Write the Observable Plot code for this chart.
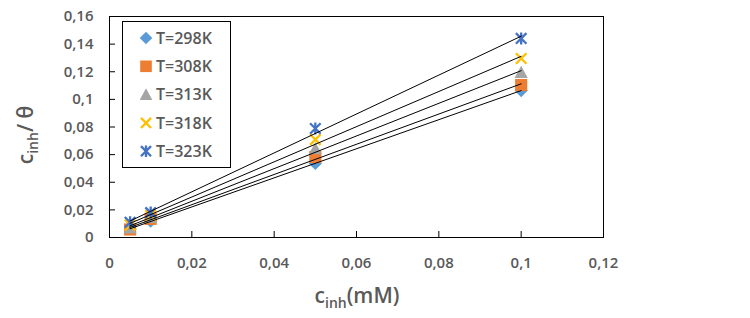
<!DOCTYPE html>
<html><head><meta charset="utf-8">
<script src="https://cdn.jsdelivr.net/npm/d3@7"></script>
<script src="https://cdn.jsdelivr.net/npm/@observablehq/plot@0.6"></script>
<style>body{margin:0;background:#fff}</style>
</head><body><div id="chart"></div>
<script>
// ---- data ----
const concentrations = [0.005, 0.01, 0.05, 0.1];           // c_inh (mM)
const seriesNames = ["T=298K", "T=308K", "T=313K", "T=318K", "T=323K"];
const t298 = [0.0062, 0.0118, 0.0536, 0.1064];
const t308 = [0.0058, 0.0135, 0.0583, 0.1104];
const t313 = [0.0070, 0.0145, 0.0644, 0.1195];
const t318 = [0.0090, 0.0160, 0.0709, 0.1296];
const t323 = [0.0110, 0.0180, 0.0789, 0.1441];
const xTicks = [0, 0.02, 0.04, 0.06, 0.08, 0.1, 0.12];
const yTicks = [0, 0.02, 0.04, 0.06, 0.08, 0.1, 0.12, 0.14, 0.16];
const colors = ["#5B9BD5", "#ED7D31", "#A5A5A5", "#FFC000", "#4472C4"];

const fmt = d => String(+d.toFixed(2)).replace(".", ",");
const rad = size => Math.sqrt(size / Math.PI);
const symbols = {
  diamond: {draw(c, s) { const r = rad(s); c.moveTo(0, -r); c.lineTo(r, 0); c.lineTo(0, r); c.lineTo(-r, 0); c.closePath(); }},
  square: {draw(c, s) { const r = rad(s) * 0.92; c.moveTo(-r, -r); c.lineTo(r, -r); c.lineTo(r, r); c.lineTo(-r, r); c.closePath(); }},
  triangle: {draw(c, s) { const r = rad(s); c.moveTo(0, -r); c.lineTo(r, r * 0.85); c.lineTo(-r, r * 0.85); c.closePath(); }},
  times: {draw(c, s) { const r = rad(s) * 0.8; c.moveTo(-r, -r); c.lineTo(r, r); c.moveTo(-r, r); c.lineTo(r, -r); }},
  star: {draw(c, s) { const r = rad(s) * 0.8; c.moveTo(-r, -r); c.lineTo(r, r); c.moveTo(-r, r); c.lineTo(r, -r); c.moveTo(0, -r * 1.15); c.lineTo(0, r * 1.15); }}
};
const seriesValues = [t298, t308, t313, t318, t323];
const seriesSymbols = [symbols.diamond, symbols.square, symbols.triangle, symbols.times, symbols.star];
const filled = [true, true, true, false, false];

const series = seriesNames.map((name, k) => ({
  name, color: colors[k], symbol: seriesSymbols[k], filled: filled[k],
  rows: concentrations.map((c, i) => ({x: c, y: seriesValues[k][i]}))
}));

const dotMarks = series.map(s => Plot.dot(s.rows, {
  x: "x", y: "y", symbol: s.symbol, r: 6.6,
  fill: s.filled ? s.color : "none",
  stroke: s.filled ? "none" : s.color,
  strokeWidth: s.filled ? 0 : 2.3
}));
const lineMarks = series.map(s => Plot.linearRegressionY(s.rows, {
  x: "x", y: "y", stroke: "black", strokeWidth: 1, ci: 0
}));

const chart = Plot.plot({
  width: 750, height: 318,
  marginLeft: 109, marginRight: 147, marginTop: 16, marginBottom: 81,
  style: {fontFamily: "'Open Sans', sans-serif", fontSize: "15px", fontWeight: "600", background: "white", color: "black"},
  x: {domain: [0, 0.12]},
  y: {domain: [0, 0.16]},
  marks: [
    Plot.axisX({ticks: xTicks, tickFormat: fmt, tickSize: -6, tickPadding: 26, stroke: "black", fill: "#595959", label: null}),
    Plot.axisY({ticks: yTicks, tickFormat: fmt, tickSize: -6, tickPadding: 22, stroke: "black", fill: "#595959", label: null}),
    ...dotMarks,
    ...lineMarks,
    Plot.frame({stroke: "black", strokeWidth: 1})
  ]
});
document.getElementById("chart").appendChild(chart);

// ---- titles & legend ----
const svg = d3.select(chart);
const font = "'Open Sans', sans-serif";
const xt = svg.append("text").attr("x", 357).attr("y", 303).attr("text-anchor", "middle")
  .attr("fill", "#595959").style("font-family", font).style("font-size", "21px").style("font-weight", "600");
xt.append("tspan").text("c");
xt.append("tspan").attr("dy", 5).style("font-size", "14px").text("inh");
xt.append("tspan").attr("dy", -5).text("(mM)");

const yt = svg.append("text").attr("transform", "translate(33,135) rotate(-90)").attr("text-anchor", "middle")
  .attr("fill", "#595959").style("font-family", font).style("font-size", "21px").style("font-weight", "600");
yt.append("tspan").text("c");
yt.append("tspan").attr("dy", 5).style("font-size", "14px").text("inh");
yt.append("tspan").attr("dy", -5).text("/ θ");

const lg = svg.append("g");
lg.append("rect").attr("x", 122.5).attr("y", 21.5).attr("width", 108).attr("height", 146)
  .attr("fill", "white").attr("stroke", "black");
series.forEach((s, i) => {
  const cy = 38 + i * 28.3;
  const p = d3.path(); s.symbol.draw(p, Math.PI * 6.3 * 6.3);
  lg.append("path").attr("transform", `translate(146,${cy})`).attr("d", p.toString())
    .attr("fill", s.filled ? s.color : "none").attr("stroke", s.filled ? "none" : s.color)
    .attr("stroke-width", s.filled ? 0 : 2.3);
  lg.append("text").attr("x", 156).attr("y", cy).attr("dy", "0.36em").attr("text-anchor", "start")
    .attr("fill", "#595959").style("font-family", font).style("font-size", "16px").style("font-weight", "600").text(s.name);
});
</script>
</body></html>
